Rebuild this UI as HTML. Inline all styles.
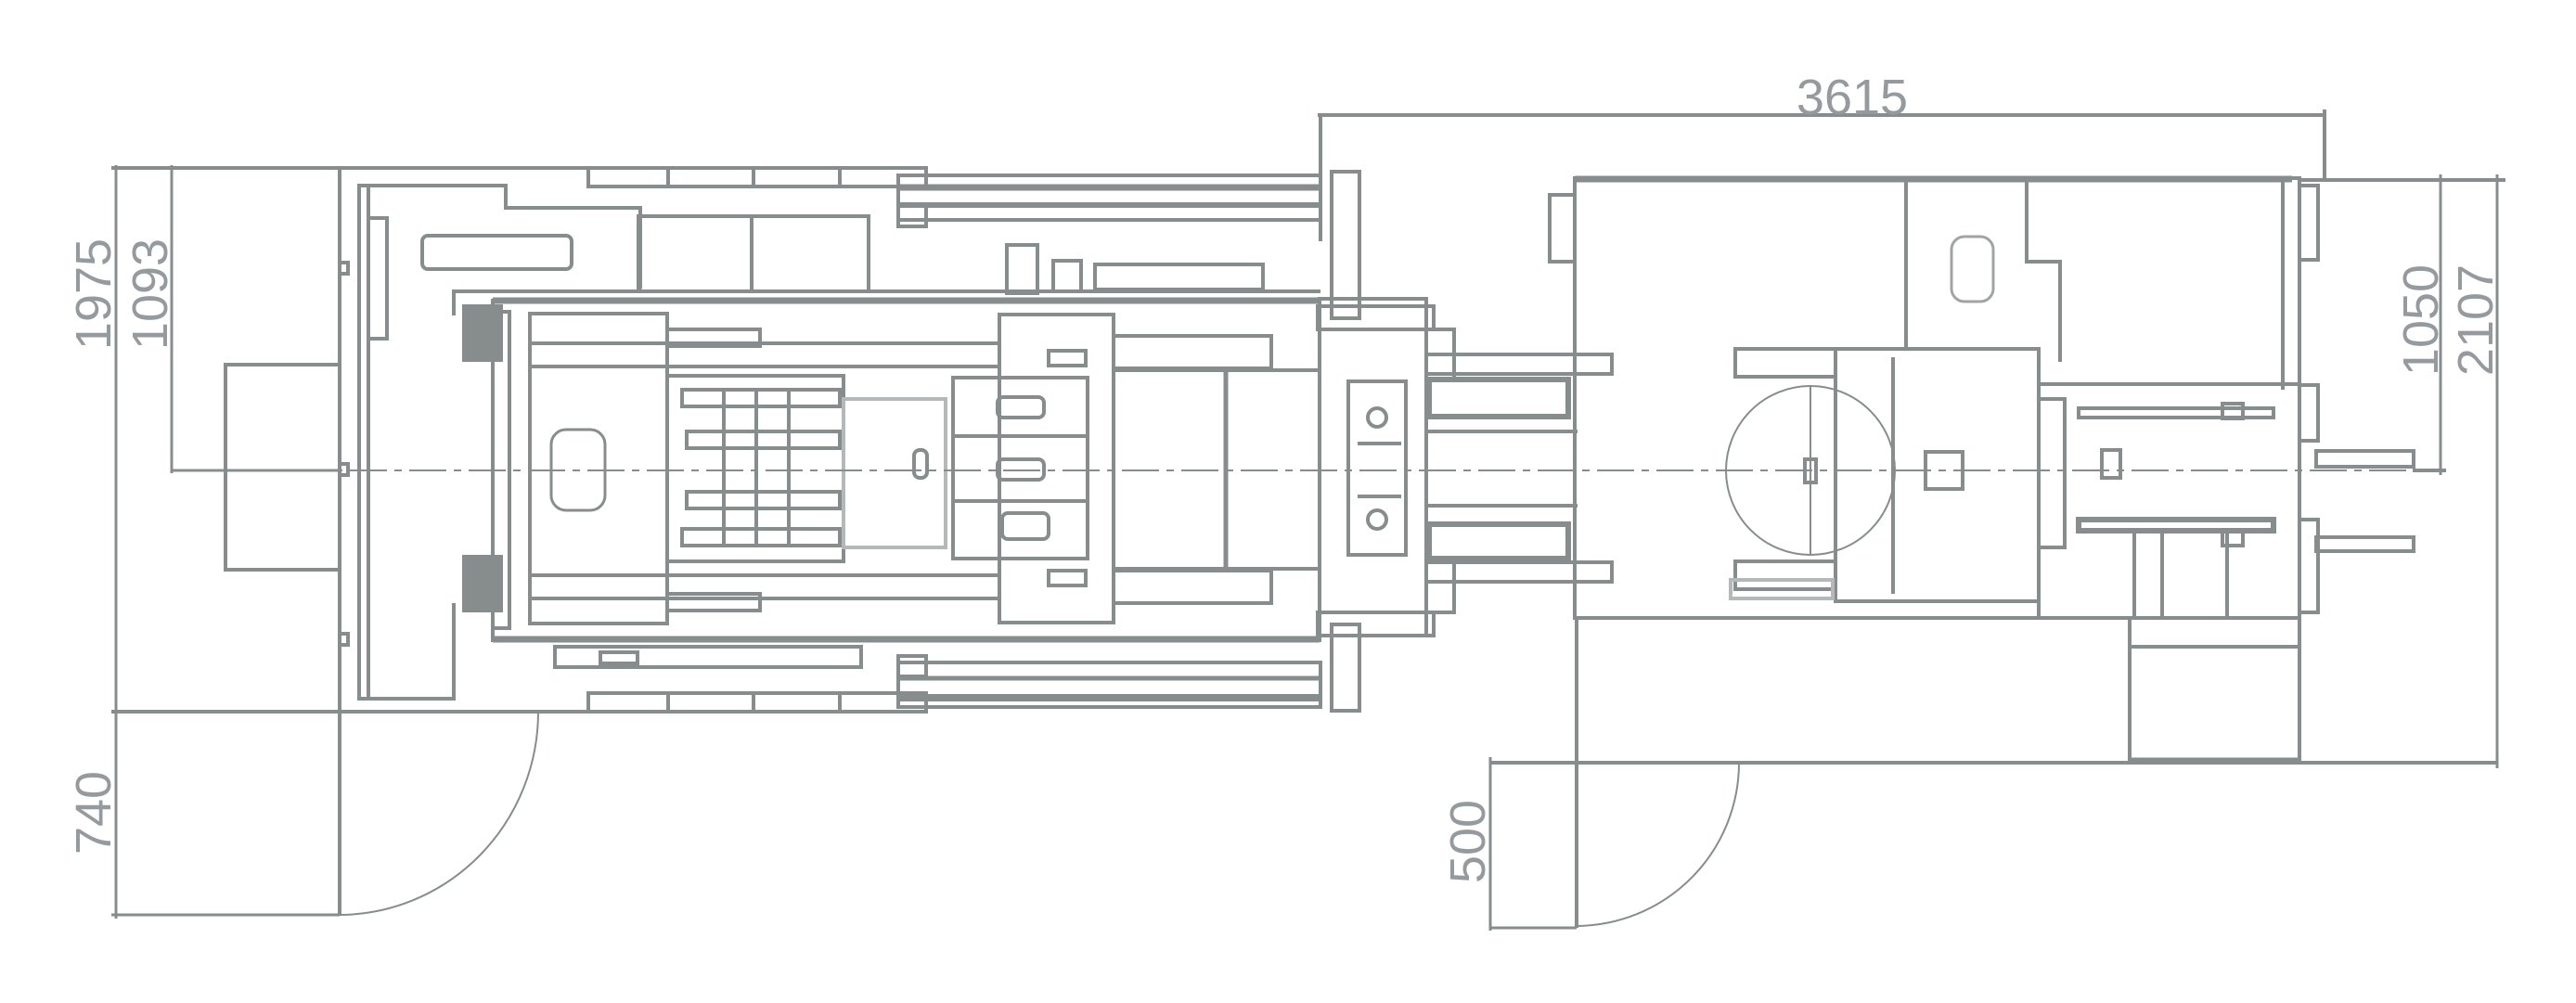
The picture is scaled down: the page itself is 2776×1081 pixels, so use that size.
<!DOCTYPE html>
<html><head><meta charset="utf-8"><style>
html,body{margin:0;padding:0;background:#fff;}
svg{display:block}
text{font-family:"Liberation Sans",sans-serif;fill:#949a9e;font-size:54px;}
</style></head><body>
<svg width="2776" height="1081" viewBox="0 0 2776 1081" xmlns="http://www.w3.org/2000/svg">
<g fill="none" stroke="#878c8c" stroke-width="4">
<!-- LEFT dims -->
<line x1="125" y1="178" x2="125" y2="990" stroke-width="3"/>
<line x1="185" y1="178" x2="185" y2="510" stroke-width="3"/>
<line x1="120" y1="181" x2="1000" y2="181"/>
<line x1="120" y1="767" x2="1000" y2="767"/>
<line x1="120" y1="986" x2="366" y2="986" stroke-width="3"/>
<line x1="185" y1="507" x2="366" y2="507" stroke-width="3"/>
<path d="M366 986 A215 219 0 0 0 580 767" stroke-width="2"/>
<line x1="366" y1="181" x2="366" y2="986"/>
<rect x="387" y="200" width="10" height="553"/>
<rect x="243" y="393" width="123" height="221"/>
<rect x="366" y="283" width="9" height="12" fill="#fff"/>
<rect x="366" y="500" width="9" height="12"/>
<rect x="366" y="683" width="9" height="12"/>
<rect x="634" y="181" width="364" height="20"/>
<line x1="720" y1="181" x2="720" y2="201"/><line x1="812" y1="181" x2="812" y2="201"/><line x1="905" y1="181" x2="905" y2="201"/>
<rect x="634" y="747" width="364" height="20"/>
<line x1="720" y1="747" x2="720" y2="767"/><line x1="812" y1="747" x2="812" y2="767"/><line x1="905" y1="747" x2="905" y2="767"/>
<polyline points="397,200 545,200 545,224 690,224 690,310 688,314 489,314 489,340"/>
<rect x="455" y="254" width="161" height="36" rx="6"/>
<rect x="397" y="235" width="20" height="130"/>
<rect x="688" y="233" width="248" height="81"/>
<line x1="810" y1="233" x2="810" y2="314"/>
<rect x="1085" y="264" width="33" height="52"/>
<rect x="1135" y="281" width="30" height="33"/>
<rect x="1180" y="285" width="181" height="27"/>
<line x1="936" y1="314" x2="1423" y2="314"/>
<polyline points="397,753 489,753 489,650"/>
<rect x="598" y="697" width="330" height="22"/>
<rect x="647" y="703" width="40" height="12"/>
<rect x="968" y="189" width="455" height="48"/>
<line x1="968" y1="202" x2="1423" y2="202" stroke-width="7"/>
<line x1="968" y1="221" x2="1423" y2="221" stroke-width="6"/>
<rect x="968" y="222" width="30" height="22"/>
<rect x="968" y="714" width="455" height="48"/>
<line x1="968" y1="752" x2="1423" y2="752" stroke-width="8"/>
<line x1="968" y1="731" x2="1423" y2="731" stroke-width="5"/>
<rect x="968" y="707" width="30" height="22"/>
<rect x="531" y="324" width="891" height="366"/>
<line x1="531" y1="324" x2="1422" y2="324" stroke-width="7"/>
<line x1="531" y1="689" x2="1422" y2="689" stroke-width="7"/>
<rect x="531" y="336" width="18" height="341"/>
<rect x="500" y="330" width="40" height="58" fill="#878c8c"/>
<rect x="500" y="600" width="40" height="58" fill="#878c8c"/>
<rect x="571" y="338" width="148" height="334"/>
<rect x="594" y="463" width="58" height="87" rx="16" stroke-width="3"/>
<line x1="571" y1="370" x2="1077" y2="370"/><line x1="571" y1="395" x2="1077" y2="395"/>
<line x1="571" y1="620" x2="1077" y2="620"/><line x1="571" y1="645" x2="1077" y2="645"/>
<rect x="719" y="355" width="100" height="18"/>
<rect x="719" y="640" width="100" height="18"/>
<rect x="719" y="405" width="190" height="200"/>
<rect x="735" y="420" width="170" height="18"/><rect x="735" y="570" width="170" height="18"/>
<rect x="740" y="465" width="165" height="18"/><rect x="740" y="530" width="165" height="18"/>
<line x1="780" y1="420" x2="780" y2="590"/><line x1="815" y1="420" x2="815" y2="590"/><line x1="850" y1="420" x2="850" y2="590"/>
<rect x="909" y="430" width="110" height="160" stroke="#b5b8b8"/>
<rect x="985" y="485" width="14" height="30" rx="6"/>
<rect x="1027" y="407" width="145" height="195"/>
<rect x="1075" y="428" width="50" height="22" rx="6"/>
<rect x="1075" y="495" width="50" height="22" rx="6"/>
<rect x="1080" y="553" width="50" height="28" rx="6"/>
<line x1="1027" y1="470" x2="1172" y2="470"/><line x1="1027" y1="540" x2="1172" y2="540"/>
<rect x="1077" y="339" width="123" height="332"/>
<rect x="1130" y="378" width="40" height="16"/>
<rect x="1130" y="615" width="40" height="16"/>
<rect x="1200" y="399" width="222" height="214"/>
<line x1="1321" y1="399" x2="1321" y2="613" stroke-width="5"/>
<rect x="1200" y="362" width="170" height="35"/>
<rect x="1200" y="615" width="170" height="35"/>
<rect x="1435" y="185" width="30" height="158"/>
<rect x="1435" y="673" width="30" height="93"/>
<rect x="1420" y="330" width="125" height="25"/>
<rect x="1420" y="660" width="125" height="25"/>
<rect x="1422" y="322" width="115" height="363"/>
<rect x="1453" y="411" width="62" height="187"/>
<circle cx="1484" cy="450" r="10"/><circle cx="1484" cy="560" r="10"/>
<line x1="1463" y1="478" x2="1510" y2="478"/><line x1="1463" y1="535" x2="1510" y2="535"/>
<rect x="1537" y="355" width="30" height="55"/>
<rect x="1537" y="605" width="30" height="55"/>
<rect x="1537" y="382" width="200" height="21"/>
<rect x="1537" y="606" width="200" height="21"/>
<rect x="1540" y="409" width="150" height="40" stroke-width="6"/>
<rect x="1540" y="565" width="150" height="37" stroke-width="6"/>
<line x1="1537" y1="465" x2="1700" y2="465"/><line x1="1537" y1="545" x2="1700" y2="545"/>
<line x1="1423" y1="124" x2="1423" y2="260"/>
<line x1="1420" y1="124" x2="2505" y2="124"/>
<line x1="2505" y1="118" x2="2505" y2="196"/>
<rect x="1697" y="192" width="781" height="474"/>
<line x1="1697" y1="193" x2="2470" y2="193" stroke-width="7"/>
<rect x="1670" y="210" width="27" height="72"/>
<line x1="2054" y1="192" x2="2054" y2="376"/>
<polyline points="2184,192 2184,282 2220,282 2220,390"/>
<rect x="2103" y="255" width="45" height="70" rx="14" stroke="#a0a4a4" stroke-width="3"/>
<rect x="2478" y="200" width="20" height="80"/>
<line x1="2460" y1="192" x2="2460" y2="420"/>
<rect x="1699" y="666" width="596" height="156"/>
<rect x="2295" y="666" width="183" height="156"/>
<line x1="2295" y1="697" x2="2478" y2="697"/>
<line x1="2295" y1="820" x2="2478" y2="820" stroke-width="7"/>
<line x1="1606" y1="822" x2="2691" y2="822"/>
<line x1="1606" y1="816" x2="1606" y2="1003" stroke-width="3"/>
<line x1="1606" y1="1000" x2="1699" y2="1000" stroke-width="3"/>
<line x1="1699" y1="822" x2="1699" y2="1000"/>
<path d="M1699 998 A176 176 0 0 0 1874 822" stroke-width="2"/>
<rect x="1870" y="376" width="108" height="30"/>
<rect x="1870" y="605" width="108" height="30"/>
<rect x="1978" y="376" width="219" height="272"/>
<line x1="2040" y1="385" x2="2040" y2="640"/>
<circle cx="1951" cy="507" r="91" stroke-width="2"/>
<line x1="1951" y1="416" x2="1951" y2="598" stroke-width="2"/>
<rect x="1945" y="495" width="12" height="25"/>
<rect x="2075" y="487" width="40" height="40"/>
<rect x="1865" y="625" width="110" height="20" stroke="#b5b8b8"/>
<rect x="2197" y="414" width="281" height="252"/>
<rect x="2240" y="440" width="210" height="10"/>
<rect x="2240" y="560" width="210" height="12" stroke-width="6"/>
<rect x="2197" y="430" width="28" height="160"/>
<rect x="2265" y="485" width="20" height="30"/>
<line x1="2300" y1="572" x2="2300" y2="666"/><line x1="2330" y1="572" x2="2330" y2="666"/><line x1="2400" y1="572" x2="2400" y2="666"/>
<rect x="2395" y="435" width="22" height="16"/><rect x="2395" y="572" width="22" height="16"/>
<rect x="2478" y="415" width="20" height="60"/><rect x="2478" y="560" width="20" height="100"/>
<rect x="2496" y="486" width="105" height="17"/>
<rect x="2496" y="579" width="105" height="15"/>
<line x1="2478" y1="194" x2="2700" y2="194"/>
<line x1="2630" y1="188" x2="2630" y2="512" stroke-width="3"/>
<line x1="2691" y1="188" x2="2691" y2="828" stroke-width="3"/>
<line x1="2600" y1="507" x2="2636" y2="507"/>
</g>
<line x1="185" y1="507" x2="2630" y2="507" stroke="#878c8c" stroke-width="2" stroke-dasharray="40,8,8,8"/>
<text x="1996" y="123" text-anchor="middle">3615</text>
<text transform="translate(119,317) rotate(-90)" text-anchor="middle">1975</text>
<text transform="translate(180,317) rotate(-90)" text-anchor="middle">1093</text>
<text transform="translate(119,876) rotate(-90)" text-anchor="middle">740</text>
<text transform="translate(1600,907) rotate(-90)" text-anchor="middle">500</text>
<text transform="translate(2627,345) rotate(-90)" text-anchor="middle">1050</text>
<text transform="translate(2686,345) rotate(-90)" text-anchor="middle">2107</text>
</svg>
</body></html>
